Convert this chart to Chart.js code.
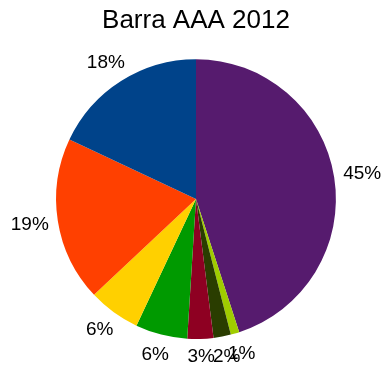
<!DOCTYPE html>
<html>
<head>
<meta charset="utf-8">
<script src="https://cdn.jsdelivr.net/npm/chart.js@4"></script>
<style>
body { margin: 0; background: #fff; }
#wrap { width: 384px; height: 369px; }
</style>
</head>
<body>
<div id="wrap"><canvas id="chart" width="384" height="369"></canvas></div>
<script>
const titleText = "Barra AAA 2012";
const categories = ["A", "B", "C", "D", "E", "F", "G", "H"];
const shares = [45, 1, 2, 3, 6, 6, 19, 18];
const colors = ["#561b6e", "#a0cc00", "#2a3d00", "#8e0022", "#009a00", "#ffd000", "#ff4000", "#00438a"];

// percent labels placed just outside each slice, pushed out by their own box size
const outsideLabels = {
	id: "outsideLabels",
	afterDatasetsDraw(chart){
		let ctx = chart.ctx;
		let meta = chart.getDatasetMeta(0);
		let total = shares.reduce((a, b) => a + b, 0);
		ctx.save();
		ctx.font = "19px 'Liberation Sans', Arial, sans-serif";
		ctx.fillStyle = "#000";
		ctx.textAlign = "center";
		ctx.textBaseline = "middle";
		for(let i = 0; i < meta.data.length; i++){
			let arc = meta.data[i];
			let mid = (arc.startAngle + arc.endAngle) / 2;
			let txt = Math.round(shares[i] / total * 100) + "%";
			let w = ctx.measureText(txt).width;
			let r = arc.outerRadius + 12;
			let x = arc.x + Math.cos(mid) * (r + w * 0.43);
			let y = arc.y + Math.sin(mid) * (r + 9);
			y = Math.min(y, chart.height - 12);
			ctx.fillText(txt, x, y);
		}
		ctx.restore();
	}
};

let ctx = document.getElementById("chart").getContext("2d");
let chart = new Chart(ctx, {
	type: "pie",
	data: {
		labels: categories,
		datasets: [{
			data: shares,
			backgroundColor: colors,
			borderWidth: 0
		}]
	},
	options: {
		responsive: false,
		animation: false,
		layout: { padding: { left: 56, right: 48, top: 0, bottom: 30 } },
		plugins: {
			legend: { display: false },
			tooltip: { enabled: false },
			title: {
				display: true,
				text: titleText,
				color: "#000",
				font: { family: "'Liberation Sans', Arial, sans-serif", size: 26, weight: "normal" },
				padding: { top: 5, bottom: 23 }
			}
		}
	},
	plugins: [outsideLabels]
});
</script>
</body>
</html>
